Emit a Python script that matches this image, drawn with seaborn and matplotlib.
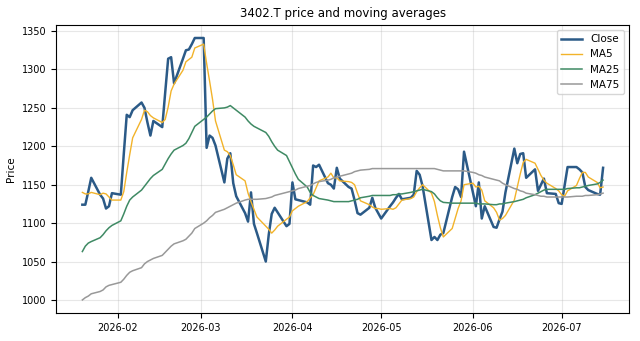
"""
3402.T close price with 5/25/75-day moving averages
"""

import matplotlib
matplotlib.use("Agg")
import matplotlib.pyplot as plt
import pandas as pd
import seaborn as sns

# trading days shown on the chart (Jan 20 - Jul 15, 2026)
dates = pd.bdate_range("2026-01-20", "2026-07-15")

close = [
    1124, 1124, 1141, 1159, 1137, 1132, 1119, 1122, 1139,
    1137, 1190, 1241, 1238, 1247, 1257, 1250, 1231, 1214, 1233,
    1225, 1270, 1314, 1316, 1282, 1314, 1325, 1326, 1333, 1341,
    1341, 1198, 1214, 1211, 1201, 1153, 1184, 1191, 1152, 1135,
    1113, 1102, 1140, 1099, 1087, 1050, 1085, 1112, 1120, 1114,
    1096, 1099,
    1153, 1131, 1130, 1127, 1124, 1175, 1173, 1176, 1152, 1150,
    1145, 1172, 1158, 1147, 1145, 1130, 1113, 1111, 1120, 1133,
    1120, 1113,
    1106, 1122, 1127, 1133, 1138, 1131, 1133, 1137, 1168, 1163,
    1148, 1078, 1082, 1078, 1085, 1087, 1134, 1147, 1144, 1134,
    1193,
    1140, 1122, 1153, 1106, 1122, 1095, 1094, 1105, 1115, 1140,
    1197, 1178, 1190, 1191, 1159, 1170, 1142, 1150, 1158, 1139,
    1138, 1126,
    1125, 1149, 1173, 1173, 1170, 1166, 1147, 1143, 1138, 1137,
    1172,
]

ma5 = [
    1140, 1138, 1138, 1140, 1137, 1139, 1138, 1134, 1130,
    1130, 1141, 1166, 1189, 1211, 1235, 1247, 1245, 1240, 1237,
    1231, 1235, 1251, 1272, 1281, 1299, 1310, 1313, 1316, 1328,
    1333, 1308, 1285, 1261, 1233, 1195, 1193, 1188, 1176, 1163,
    1155, 1139, 1128, 1118, 1108, 1096, 1092, 1087, 1091, 1096,
    1105, 1108,
    1116, 1119, 1122, 1128, 1133, 1137, 1146, 1155, 1160, 1165,
    1159, 1159, 1155, 1154, 1153, 1150, 1139, 1129, 1124, 1121,
    1119, 1119,
    1118, 1119, 1118, 1120, 1125, 1130, 1132, 1134, 1141, 1146,
    1150, 1139, 1128, 1110, 1094, 1082, 1093, 1106, 1119, 1129,
    1150,
    1152, 1147, 1148, 1143, 1129, 1120, 1114, 1104, 1106, 1110,
    1130, 1147, 1164, 1179, 1183, 1178, 1170, 1162, 1156, 1152,
    1145, 1142,
    1137, 1135, 1142, 1149, 1158, 1166, 1166, 1160, 1153, 1146,
    1147,
]

ma25 = [
    1063, 1070, 1074, 1076, 1081, 1085, 1090, 1094, 1097,
    1103, 1112, 1122, 1130, 1134, 1143, 1148, 1153, 1158, 1162,
    1170, 1177, 1184, 1190, 1195, 1201, 1204, 1210, 1218, 1226,
    1235, 1238, 1242, 1246, 1249, 1250, 1251, 1253, 1250, 1247,
    1238, 1233, 1229, 1226, 1224, 1218, 1213, 1206, 1200, 1195,
    1188, 1180,
    1172, 1164, 1157, 1147, 1140, 1136, 1134, 1132, 1130, 1129,
    1128, 1128, 1128, 1128, 1129, 1130, 1131, 1133, 1135, 1136,
    1136, 1136,
    1136, 1136, 1137, 1137, 1138, 1138, 1140, 1141, 1142, 1143,
    1144, 1141, 1138, 1133, 1129, 1127, 1126, 1126, 1126, 1126,
    1126,
    1126, 1126, 1125, 1125, 1125, 1124, 1124, 1125, 1125, 1126,
    1128, 1129, 1130, 1131, 1133, 1137, 1139, 1141, 1143, 1144,
    1144, 1144,
    1144, 1144, 1145, 1146, 1146, 1147, 1148, 1149, 1151, 1153,
    1156,
]

ma75 = [
    1000, 1003, 1005, 1008, 1011, 1013, 1017, 1019, 1020,
    1023, 1027, 1032, 1036, 1038, 1042, 1047, 1050, 1052, 1054,
    1058, 1062, 1066, 1070, 1073, 1077, 1079, 1083, 1087, 1093,
    1100, 1103, 1107, 1110, 1114, 1118, 1120, 1122, 1124, 1126,
    1130, 1131, 1131, 1131, 1131, 1132, 1133, 1134, 1136, 1137,
    1140, 1141,
    1142, 1143, 1145, 1148, 1149, 1151, 1153, 1154, 1156, 1157,
    1159, 1160, 1161, 1164, 1165, 1167, 1168, 1169, 1170, 1171,
    1171, 1171,
    1171, 1171, 1171, 1171, 1171, 1171, 1171, 1171, 1171, 1171,
    1171, 1171, 1171, 1170, 1169, 1168, 1168, 1168, 1168, 1168,
    1168,
    1166, 1165, 1163, 1162, 1160, 1157, 1156, 1155, 1152, 1150,
    1145, 1144, 1142, 1141, 1139, 1137, 1136, 1135, 1135, 1134,
    1134, 1134,
    1134, 1134, 1134, 1135, 1135, 1135, 1136, 1136, 1137, 1138,
    1139,
]

series = [
    ("Close", close, "#2b5a87", 1.8),
    ("MA5", ma5, "#f2b32a", 1.0),
    ("MA25", ma25, "#3f8a64", 1.1),
    ("MA75", ma75, "#999999", 1.1),
]

fig, ax = plt.subplots(figsize=(6.4, 3.41), dpi=100)

for name, values, color, lw in series:
    sns.lineplot(x=dates, y=values, ax=ax, label=name, color=color, linewidth=lw)

ax.set_title("3402.T price and moving averages", fontsize=8.5)
ax.set_ylabel("Price", fontsize=7.5)
ax.set_xlabel("")
ax.tick_params(labelsize=7)
ax.grid(True, alpha=0.3)
ax.legend(loc="upper right", fontsize=7.5)

fig.subplots_adjust(left=0.088, right=0.983, top=0.927, bottom=0.082)
fig.savefig("out.png", dpi=100)
plt.close(fig)
